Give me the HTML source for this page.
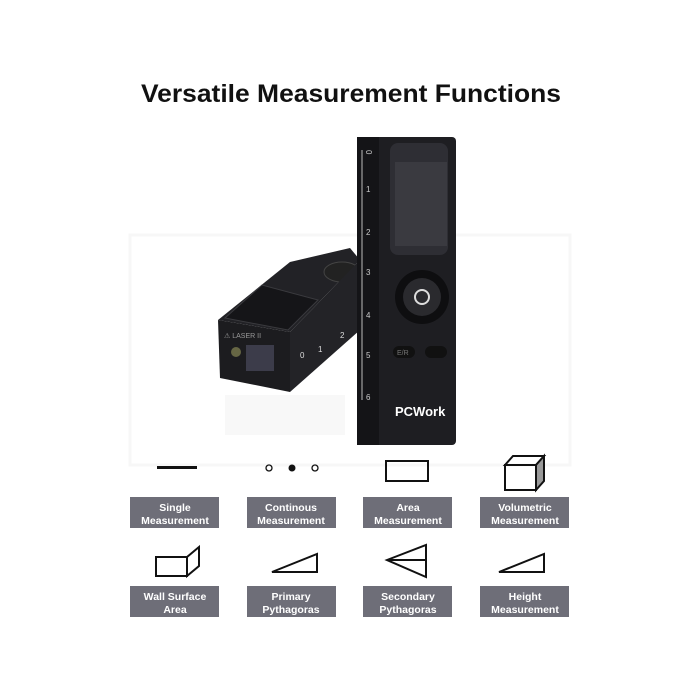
<!DOCTYPE html>
<html><head><style>
body{margin:0;background:#fff;width:700px;height:700px;overflow:hidden}
svg{display:block}
text{font-family:"Liberation Sans",sans-serif}
</style></head><body>
<svg width="700" height="700" viewBox="0 0 700 700">
<text x="351" y="102" text-anchor="middle" font-size="25" font-weight="bold" fill="#111" textLength="420" lengthAdjust="spacingAndGlyphs">Versatile Measurement Functions</text>
<!-- watermark -->
<rect x="130" y="235" width="440" height="230" fill="none" stroke="#f7f7f7" stroke-width="3"/>
<!-- lying device -->
<polygon points="218,320 290,332 360,260 350,248 290,262" fill="#222226"/>
<polygon points="225,318 288,330 318,300 262,285" fill="#151518" stroke="#3a3a3e"/>
<ellipse cx="342" cy="272" rx="18" ry="10" fill="#222" stroke="#444"/>
<polygon points="218,320 290,332 290,392 220,378" fill="#1c1c1f"/>
<polygon points="290,332 360,260 360,330 290,392" fill="#232327"/>
<rect x="246" y="345" width="28" height="26" fill="#3c3c4a"/>
<circle cx="236" cy="352" r="5" fill="#664"/>
<text x="224" y="338" font-size="7" fill="#999">⚠ LASER II</text>
<text x="300" y="358" font-size="8" fill="#ddd">0</text>
<text x="318" y="352" font-size="8" fill="#ddd">1</text>
<text x="340" y="338" font-size="8" fill="#ddd">2</text>
<rect x="225" y="395" width="120" height="40" fill="#f4f4f4" opacity="0.6"/>
<!-- standing device -->
<rect x="357" y="137" width="99" height="308" rx="4" fill="#1e1e22"/>
<rect x="357" y="137" width="22" height="308" fill="#141417"/>
<rect x="390" y="143" width="58" height="112" rx="8" fill="#2e2e34"/>
<rect x="395" y="162" width="52" height="84" fill="#3a3a40"/>
<circle cx="422" cy="297" r="27" fill="#0e0e10"/>
<circle cx="422" cy="297" r="19" fill="#2a2a2e"/>
<circle cx="422" cy="297" r="7" fill="none" stroke="#ddd" stroke-width="2"/>
<rect x="393" y="346" width="22" height="12" rx="6" fill="#111"/>
<rect x="425" y="346" width="22" height="12" rx="6" fill="#111"/>
<text x="397" y="355" font-size="7" fill="#777">E/R</text>
<text x="395" y="416" font-size="13" font-weight="bold" fill="#fff">PCWork</text>
<g stroke="#bbb" stroke-width="1">
<line x1="362" y1="150" x2="362" y2="400"/>
</g>
<text x="366" y="150" font-size="8" fill="#ccc" transform="rotate(90 366 150)">0</text>
<text x="366" y="192" font-size="8" fill="#ccc">1</text>
<text x="366" y="235" font-size="8" fill="#ccc">2</text>
<text x="366" y="275" font-size="8" fill="#ccc">3</text>
<text x="366" y="318" font-size="8" fill="#ccc">4</text>
<text x="366" y="358" font-size="8" fill="#ccc">5</text>
<text x="366" y="400" font-size="8" fill="#ccc">6</text>
<!-- icons row1 -->
<rect x="157" y="466" width="40" height="3" fill="#111"/>
<circle cx="269" cy="468" r="3" fill="none" stroke="#111" stroke-width="1.3"/>
<circle cx="292" cy="468" r="3.5" fill="#111"/>
<circle cx="315" cy="468" r="3" fill="none" stroke="#111" stroke-width="1.3"/>
<rect x="386" y="461" width="42" height="20" fill="none" stroke="#111" stroke-width="2"/>
<polygon points="505,465 536,465 536,490 505,490" fill="none" stroke="#111" stroke-width="2"/>
<polygon points="505,465 513,456 544,456 536,465" fill="none" stroke="#111" stroke-width="2"/>
<polygon points="536,465 544,456 544,481 536,490" fill="#999" stroke="#111" stroke-width="2"/>
<!-- icons row2 -->
<rect x="156" y="557" width="31" height="19" fill="none" stroke="#111" stroke-width="2"/>
<polygon points="187,557 199,547 199,566 187,576" fill="none" stroke="#111" stroke-width="2"/>
<polygon points="272,572 317,554 317,572" fill="none" stroke="#111" stroke-width="2"/>
<polygon points="387,560 426,545 426,577" fill="none" stroke="#111" stroke-width="2"/>
<line x1="387" y1="560" x2="426" y2="560" stroke="#111" stroke-width="2"/>
<polygon points="499,572 544,554 544,572" fill="none" stroke="#111" stroke-width="2"/>
<!-- labels -->
<g fill="#6e6e78">
<rect x="130" y="497" width="89" height="31"/><rect x="247" y="497" width="89" height="31"/>
<rect x="363" y="497" width="89" height="31"/><rect x="480" y="497" width="89" height="31"/>
<rect x="130" y="586" width="89" height="31"/><rect x="247" y="586" width="89" height="31"/>
<rect x="363" y="586" width="89" height="31"/><rect x="480" y="586" width="89" height="31"/>
</g>
<g fill="#fff" font-size="10.5" font-weight="bold" text-anchor="middle">
<text x="175" y="511">Single</text><text x="175" y="524">Measurement</text>
<text x="291" y="511">Continous</text><text x="291" y="524">Measurement</text>
<text x="408" y="511">Area</text><text x="408" y="524">Measurement</text>
<text x="525" y="511">Volumetric</text><text x="525" y="524">Measurement</text>
<text x="175" y="600">Wall Surface</text><text x="175" y="613">Area</text>
<text x="291" y="600">Primary</text><text x="291" y="613">Pythagoras</text>
<text x="408" y="600">Secondary</text><text x="408" y="613">Pythagoras</text>
<text x="525" y="600">Height</text><text x="525" y="613">Measurement</text>
</g>
</svg>
</body></html>
